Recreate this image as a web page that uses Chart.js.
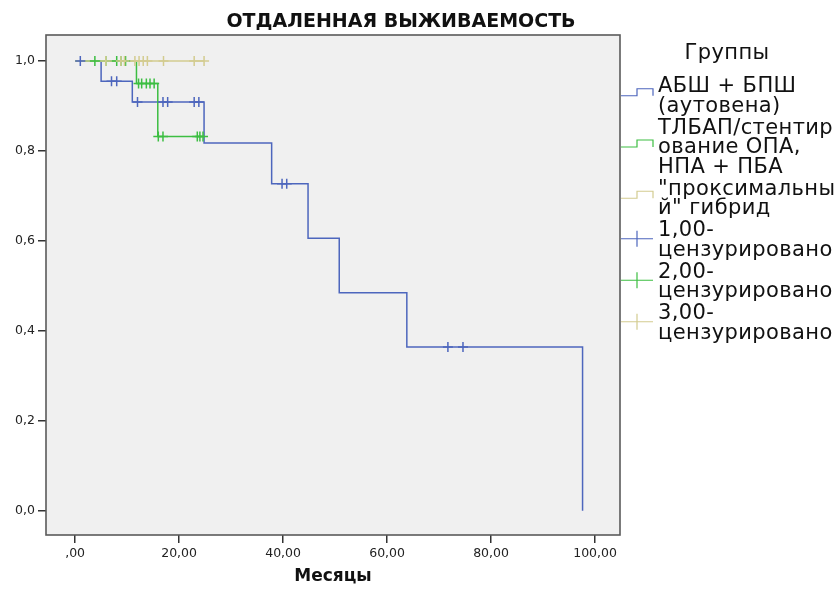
<!DOCTYPE html>
<html>
<head>
<meta charset="utf-8">
<script src="https://cdn.jsdelivr.net/npm/chart.js@4/dist/chart.umd.min.js"></script>
<style>
  html, body { margin: 0; padding: 0; background: #ffffff; }
  canvas { display: block; }
</style>
</head>
<body>
<canvas id="km" width="838" height="590"></canvas>
<script>
// Survival steps per group: event times (months) and survival after each event
const group1Times = [0, 5.0, 11.0, 24.8, 37.8, 44.8, 50.8, 63.8, 97.6];
const group1Surv  = [1.0, 0.955, 0.909, 0.818, 0.727, 0.606, 0.485, 0.364, 0.0];
const group1Censored = [1.0, 7.0, 8.0, 12.0, 16.9, 17.8, 22.9, 23.8, 39.8, 40.7, 71.7, 74.6];

const group2Times = [0, 11.8, 15.9];
const group2Surv  = [1.0, 0.950, 0.832];
const group2Censored = [3.8, 5.9, 8.0, 8.8, 9.7, 12.2, 12.8, 13.7, 14.4, 15.2, 16.0, 16.9, 23.5, 24.0, 24.6];

const group3Times = [0];
const group3Surv  = [1.0];
const group3Censored = [5.9, 8.8, 9.5, 11.5, 12.3, 13.1, 13.9, 17.0, 22.9, 24.8];

const xTickValues = [0, 20, 40, 60, 80, 100];
const xTickLabels = [',00', '20,00', '40,00', '60,00', '80,00', '100,00'];
const yTickValues = [0, 0.2, 0.4, 0.6, 0.8, 1.0];
const yTickLabels = ['0,0', '0,2', '0,4', '0,6', '0,8', '1,0'];

const chartTitle = 'ОТДАЛЕННАЯ ВЫЖИВАЕМОСТЬ';
const xTitle = 'Месяцы';
const legendTitle = 'Группы';
const legendCurveLabels = [
  ['АБШ + БПШ', '(аутовена)'],
  ['ТЛБАП/стентир', 'ование ОПА,', 'НПА + ПБА'],
  ['"проксимальны', 'й" гибрид']
];
const legendCensorLabels = [
  ['1,00-', 'цензурировано'],
  ['2,00-', 'цензурировано'],
  ['3,00-', 'цензурировано']
];

const colors = ['#4d66bd', '#3cbe42', '#d3cc90'];

// Step curve points: events, then a flat run to the last censored time
function curvePoints(times, surv, censored) {
  const pts = times.map((t, i) => ({ x: t, y: surv[i] }));
  const lastC = censored.length ? Math.max(...censored) : 0;
  if (lastC > times[times.length - 1]) pts.push({ x: lastC, y: surv[surv.length - 1] });
  return pts;
}
// Censor marks sit on the curve at their time
function censorPoints(times, surv, censored) {
  return censored.map(c => {
    let y = surv[0];
    for (let i = 0; i < times.length; i++) if (times[i] <= c) y = surv[i];
    return { x: c, y: y };
  });
}

const groups = [
  [group1Times, group1Surv, group1Censored],
  [group2Times, group2Surv, group2Censored],
  [group3Times, group3Surv, group3Censored]
];

const datasets = [];
groups.forEach((g, i) => {
  datasets.push({
    data: curvePoints(g[0], g[1], g[2]),
    showLine: true, stepped: 'before',
    borderColor: colors[i], borderWidth: 1.5,
    pointRadius: 0, fill: false, order: 10 - i
  });
});
groups.forEach((g, i) => {
  datasets.push({
    data: censorPoints(g[0], g[1], g[2]),
    showLine: false, pointStyle: 'cross', pointRadius: 5,
    borderColor: colors[i], pointBorderWidth: 1.5, borderWidth: 1.5,
    backgroundColor: colors[i], order: 5 - i
  });
});

const frameAndText = {
  id: 'frameAndText',
  beforeDraw(chart) {
    const { ctx, chartArea: a } = chart;
    ctx.save();
    ctx.fillStyle = '#f0f0f0';
    ctx.fillRect(a.left, a.top, a.right - a.left, a.bottom - a.top);
    ctx.restore();
  },
  afterDraw(chart) {
    const { ctx, chartArea: a } = chart;
    ctx.save();
    // plot frame
    ctx.strokeStyle = '#5a5a5a';
    ctx.lineWidth = 1.6;
    ctx.strokeRect(a.left, a.top, a.right - a.left, a.bottom - a.top);

    // title
    ctx.fillStyle = '#111';
    ctx.font = 'bold 19px "DejaVu Sans"';
    ctx.textAlign = 'center';
    ctx.textBaseline = 'alphabetic';
    ctx.fillText(chartTitle, 401, 27);

    // legend
    const symL = 621, symM = 637, symR = 653, textX = 658;
    const lineH = 19.5, gap = 2.5;
    ctx.font = '21px "DejaVu Sans"';
    if ('letterSpacing' in ctx) ctx.letterSpacing = '0.4px';
    ctx.fillStyle = '#111';
    ctx.fillText(legendTitle, 727, 59);
    ctx.textAlign = 'left';
    let base = 92;
    const items = legendCurveLabels.map((l, i) => ({ lines: l, kind: 'step', c: colors[i] }))
      .concat(legendCensorLabels.map((l, i) => ({ lines: l, kind: 'cross', c: colors[i] })));
    items.forEach(it => {
      const first = base;
      it.lines.forEach(s => { ctx.fillStyle = '#111'; ctx.fillText(s, textX, base); base += lineH; });
      const mid = (first + base - lineH) / 2;
      ctx.strokeStyle = it.c;
      ctx.lineWidth = 1.2;
      ctx.beginPath();
      if (it.kind === 'step') {
        const low = mid - 6, high = low - 7;
        ctx.moveTo(symL, low); ctx.lineTo(symM, low); ctx.lineTo(symM, high);
        ctx.lineTo(symR, high); ctx.lineTo(symR, low);
      } else {
        const y = mid - 7;
        ctx.moveTo(symL, y); ctx.lineTo(symR, y);
        ctx.moveTo(symM, y - 8); ctx.lineTo(symM, y + 8);
      }
      ctx.stroke();
      base += gap;
    });
    ctx.restore();
  }
};

new Chart(document.getElementById('km'), {
  type: 'scatter',
  data: { datasets },
  options: {
    responsive: false,
    animation: false,
    layout: { padding: { top: 35, right: 218, left: 0, bottom: 0 } },
    plugins: { legend: { display: false }, tooltip: { enabled: false } },
    scales: {
      x: {
        type: 'linear', min: -5.6, max: 104.8,
        afterFit(s) { s.height = 55; },
        afterBuildTicks(s) { s.ticks = xTickValues.map(v => ({ value: v })); },
        ticks: {
          callback: (v, i) => xTickLabels[i],
          font: { family: 'DejaVu Sans', size: 12.5 }, color: '#222',
          padding: 3, maxRotation: 0, autoSkip: false
        },
        grid: { display: true, drawOnChartArea: false, drawTicks: true, tickLength: 8, color: '#333', lineWidth: 1.5 },
        border: { display: false },
        title: {
          display: true, text: xTitle, color: '#111',
          font: { family: 'DejaVu Sans', weight: 'bold', size: 17 },
          padding: { top: 4, bottom: 3 }
        }
      },
      y: {
        type: 'linear', min: -0.054, max: 1.058,
        afterFit(s) { s.width = 46; },
        afterBuildTicks(s) { s.ticks = yTickValues.map(v => ({ value: v })); },
        ticks: {
          callback: (v, i) => yTickLabels[i],
          font: { family: 'DejaVu Sans', size: 12.5 }, color: '#222',
          padding: 3, autoSkip: false
        },
        grid: { display: true, drawOnChartArea: false, drawTicks: true, tickLength: 8, color: '#333', lineWidth: 1.5 },
        border: { display: false }
      }
    }
  },
  plugins: [frameAndText]
});
</script>
</body>
</html>
